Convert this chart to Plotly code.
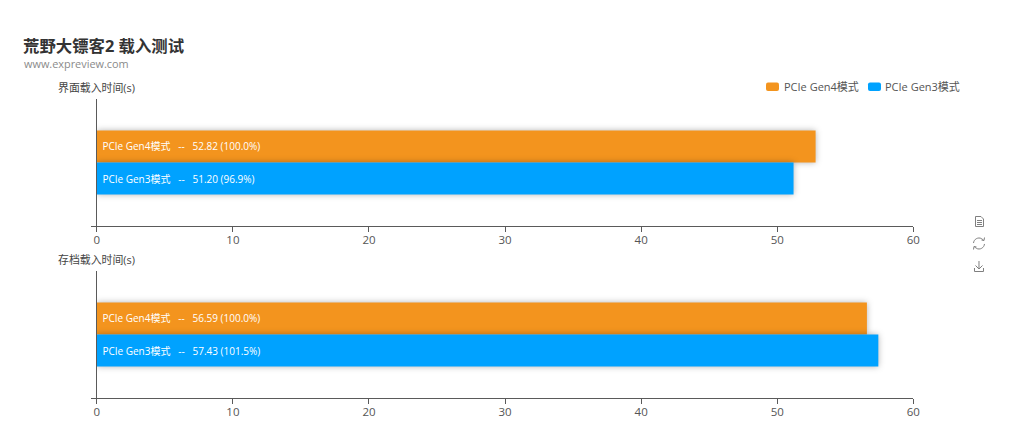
import math
import plotly.graph_objects as go

W, H = 1016, 441
FONT = '"Open Sans", "Noto Sans CJK SC", sans-serif'

series_names = ["PCIe Gen4模式", "PCIe Gen3模式"]
series_colors = ["#F3941E", "#00A2FF"]
ui_load = [52.82, 51.20]
ui_pct = ["100.0", "96.9"]
save_load = [56.59, 57.43]
save_pct = ["100.0", "101.5"]
panel_names = ["界面载入时间(s)", "存档载入时间(s)"]
x_ticks = [0, 10, 20, 30, 40, 50, 60]
title_text = "荒野大镖客2 载入测试"
subtitle_text = "www.expreview.com"

AXIS = "#5a5a5a"
NB = "\u00a0"


def px(x):
    return x / W


def py(y):
    return 1 - y / H


fig = go.Figure()
panels = [(ui_load, ui_pct, "x", "y"), (save_load, save_pct, "x2", "y2")]
for vals, pcts, xa, ya in panels:
    for name, color, v, p in zip(series_names, series_colors, vals, pcts):
        fig.add_trace(go.Bar(
            x=[v], y=[0], orientation="h", name=name, xaxis=xa, yaxis=ya,
            marker=dict(color=color, line=dict(width=0)),
            text=[f"{NB}{name}{NB*3}--{NB*3}{v:.2f}{NB}({p}%)"],
            textposition="inside", insidetextanchor="start", textangle=0,
            textfont=dict(color="white", size=10, family=FONT),
            constraintext="none", cliponaxis=False, showlegend=False,
            hoverinfo="text",
        ))


def x_axis(anchor):
    return dict(domain=[px(96.8), px(913.3)], range=[0, 60], anchor=anchor,
                automargin=False, ticklabelstandoff=-2,
                tickvals=x_ticks, ticks="outside", ticklen=5, tickwidth=1,
                tickcolor=AXIS, showline=True, linecolor=AXIS, linewidth=1,
                showgrid=False, zeroline=False,
                tickfont=dict(size=11.5, color="#555555", family=FONT))


def y_axis(anchor, top, bottom):
    return dict(domain=[py(bottom), py(top)], range=[0.5, -0.5], anchor=anchor,
                automargin=False,
                tickvals=[0.5], ticktext=[""], ticks="outside", ticklen=5,
                tickwidth=1, tickcolor=AXIS, showline=True, linecolor=AXIS,
                linewidth=1, showgrid=False, zeroline=False)


annotations = []


def label(x, y, text, size, color, bold=False, anchor="left"):
    annotations.append(dict(
        xref="paper", yref="paper", x=px(x), y=py(y), text=f"<b>{text}</b>" if bold else text,
        showarrow=False, xanchor=anchor, yanchor="middle", align="left",
        xshift=0, yshift=0, borderpad=0, borderwidth=0,
        font=dict(size=size, color=color, family=FONT)))


label(23, 45, title_text, 16.4, "#333333", bold=True)
label(23.5, 63.5, subtitle_text, 10.9, "#8a8a8a")
label(58, 87.5, panel_names[0], 10.9, "#444444")
label(58, 259.5, panel_names[1], 10.9, "#444444")
label(784, 86, series_names[0], 11, "#555555")
label(885, 86, series_names[1], 11, "#555555")


def P(x, y):
    return f"{px(x):.5f},{py(y):.5f}"


def swatch(x0, y0, x1, y1, color, r=2):
    d = (f"M{P(x0 + r, y0)} L{P(x1 - r, y0)} Q{P(x1, y0)} {P(x1, y0 + r)} "
         f"L{P(x1, y1 - r)} Q{P(x1, y1)} {P(x1 - r, y1)} "
         f"L{P(x0 + r, y1)} Q{P(x0, y1)} {P(x0, y1 - r)} "
         f"L{P(x0, y0 + r)} Q{P(x0, y0)} {P(x0 + r, y0)} Z")
    return dict(type="path", xref="paper", yref="paper", path=d,
                fillcolor=color, line=dict(width=0))


def line(points):
    d = "M" + " L".join(P(*p) for p in points)
    return dict(type="path", xref="paper", yref="paper", path=d,
                line=dict(color="#7f7f7f", width=1), fillcolor="rgba(0,0,0,0)")


def arc(cx, cy, r, a0, a1, n=10):
    return [(cx + r * math.cos(math.radians(a0 + (a1 - a0) * i / n)),
             cy + r * math.sin(math.radians(a0 + (a1 - a0) * i / n))) for i in range(n + 1)]


shapes = [swatch(766, 82.5, 779, 91, series_colors[0]), swatch(868, 82.5, 881, 91, series_colors[1])]
# toolbox icons
shapes += [
    line([(975.5, 216.5), (981, 216.5), (983.5, 219), (983.5, 226.5), (975.5, 226.5), (975.5, 216.5)]),
    line([(977, 220.5), (982, 220.5)]), line([(977, 222.5), (982, 222.5)]), line([(977, 224.5), (982, 224.5)]),
    line(arc(979, 243.5, 5.5, 185, 325)),
    line(arc(979, 243.5, 5.5, 5, 145)),
    line([(984.5, 237.5), (984, 240.5), (981.5, 240)]),
    line([(973.5, 249.5), (974, 246.5), (976.5, 247)]),
    line([(979, 261), (979, 269)]), line([(975.5, 265.5), (979, 269), (982.5, 265.5)]),
    line([(974.5, 268), (974.5, 271.5), (983.5, 271.5), (983.5, 268)]),
]

fig.update_layout(
    width=W, height=H, autosize=False,
    margin=dict(l=0, r=0, t=0, b=0),
    paper_bgcolor="white", plot_bgcolor="white",
    barmode="group", bargap=0.495, bargroupgap=0.0,
    xaxis=x_axis("y"), yaxis=y_axis("x", 99, 226),
    xaxis2=x_axis("y2"), yaxis2=y_axis("x2", 271, 398),
    annotations=annotations, shapes=shapes,
    font=dict(family=FONT), showlegend=False,
)

post = """
document.body.style.margin='0';
var s=document.createElement('style');
s.textContent='.barlayer .point path{filter:drop-shadow(0 0 3px rgba(0,0,0,.3));}';
document.head.appendChild(s);
"""
fig.write_html("out.html", config={"displayModeBar": False}, post_script=post)
